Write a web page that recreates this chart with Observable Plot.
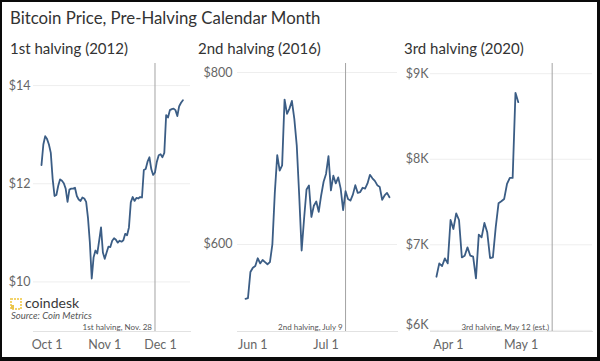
<!DOCTYPE html>
<html>
<head>
<meta charset="utf-8">
<script src="https://cdn.jsdelivr.net/npm/d3@7"></script>
<script src="https://cdn.jsdelivr.net/npm/@observablehq/plot@0.6"></script>
<style>
  html, body { margin: 0; padding: 0; width: 600px; height: 361px; overflow: hidden; background: #0a0a0a; }
  body { position: relative; font-family: Lato, "Open Sans", sans-serif; }
  #card { position: absolute; left: 2px; top: 2px; width: 595px; height: 355px; background: #fff; }
  .abs { position: absolute; white-space: nowrap; }
  #title { left: 10px; top: 7px; font-size: 16.8px; color: #333; line-height: 22px; }
  .ptitle { top: 37px; font-size: 15px; color: #333; line-height: 22px; }
  #logo { left: 10px; top: 296px; font-size: 14px; color: #3a3a3a; line-height: 13px; }
  #source { left: 11px; top: 311px; font-size: 9.5px; font-style: italic; color: #555; line-height: 9px; }
  svg.panel { position: absolute; top: 60px; overflow: visible; }
</style>
</head>
<body>
<div id="card"></div>
<div id="root"></div>
<script>
// ---- data ----
const chartTitle = "Bitcoin Price, Pre-Halving Calendar Month";
const panelTitles = ["1st halving (2012)", "2nd halving (2016)", "3rd halving (2020)"];
const halvingDates = ["2012-11-28", "2016-07-09", "2020-05-12"];
const halvingLabels = ["1st halving, Nov. 28", "2nd halving, July 9", "3rd halving, May 12 (est.)"];

// daily prices, first value on the start date
const start2012 = "2012-09-28";
const price2012 = [12.38, 12.80, 12.97, 12.91, 12.80, 12.63, 12.10, 11.75, 11.77, 11.96,
  12.09, 12.06, 12.01, 11.90, 11.63, 11.88, 11.90, 11.90, 11.92, 11.75,
  11.68, 11.65, 11.72, 11.70, 11.63, 11.30, 10.80, 10.07, 10.50, 10.64,
  10.58, 10.84, 11.11, 10.60, 10.47, 10.60, 10.72, 10.71, 10.84, 10.89,
  10.86, 10.80, 10.84, 10.82, 10.85, 10.98, 10.95, 11.11, 11.62, 11.73,
  11.65, 11.71, 11.70, 11.73, 11.72, 12.28, 12.30, 12.45, 12.54, 12.30,
  12.18, 12.23, 12.45, 12.58, 12.60, 12.54, 12.63, 13.40, 13.35, 13.50,
  13.52, 13.53, 13.50, 13.38, 13.58, 13.65, 13.70];

const start2016 = "2016-05-29";
const price2016 = [536.8, 537.6, 568, 573, 575, 584, 578, 582, 579.5, 577,
  579.5, 600, 660, 704, 686, 692, 768.6, 752, 758, 767,
  746, 715, 657, 593, 630, 664, 668.6, 632, 645, 650,
  638, 657, 673, 682, 702.7, 663, 680, 671, 678, 665,
  640, 662, 653, 651, 658, 669, 660, 661, 666, 665,
  671, 681, 677, 674, 669, 667, 652, 657, 660, 655];

const start2020 = "2020-04-01";
const price2020 = [6627, 6783, 6752, 6842, 6783, 7290, 7185, 7368, 7290, 6853,
  6873, 6970, 6873, 6861, 6608, 7119, 7087, 7255, 7146, 6846,
  6853, 7204, 7485, 7509, 7536, 7711, 7782, 7782, 8776, 8667];

const yTicks2012 = [10, 12, 14];
const yTicks2016 = [600, 800];
const yTicks2020 = [6000, 7000, 8000, 9000];
const xTicks2012 = ["2012-10-01", "2012-11-01", "2012-12-01"];
const xTicks2016 = ["2016-06-01", "2016-07-01"];
const xTicks2020 = ["2020-04-01", "2020-05-01"];

// ---- drawing ----
const LINE = "#3b5d85";
const GRID = "#eeeeee";
const TICKTXT = "#666";
const fmtDate = d3.utcFormat("%b %-d");

function series(start, values) {
  const s = new Date(start);
  return values.map((v, i) => ({date: d3.utcDay.offset(s, i), price: v}));
}

function panel(o) {
  const data = series(o.start, o.values);
  const halving = new Date(o.halving);
  const marks = [
    Plot.gridY(o.yTicks, {stroke: GRID, strokeOpacity: 1}),
    Plot.frame({anchor: "bottom", stroke: "#e2e2e2"}),
    Plot.ruleX([halving], {stroke: "#a3a3a3", strokeWidth: 1}),
    Plot.lineY(data, {x: "date", y: "price", stroke: LINE, strokeWidth: 1.8, curve: "linear"}),
    Plot.text([halving], {x: d => d, frameAnchor: "bottom", text: () => o.label, textAnchor: "end",
      lineAnchor: "bottom", dx: -3, dy: -2, fontSize: 8, fill: "#555"}),
  ];
  for (const t of o.yTickGroups) {
    marks.push(Plot.axisY(t.ticks, {tickSize: 0, tickPadding: o.yPad, tickFormat: o.yFmt, label: null,
      fontSize: 12.5, fill: TICKTXT, dy: t.dy || 0}));
  }
  for (const t of o.xTickGroups) {
    marks.push(Plot.axisX(t.ticks.map(d => new Date(d)), {tickSize: 0, tickPadding: 9, tickFormat: fmtDate,
      label: null, fontSize: 12.5, fill: TICKTXT, dx: t.dx || 0}));
  }
  const svg = Plot.plot({
    width: o.width, height: 300,
    marginTop: 3, marginBottom: 29, marginLeft: o.ml, marginRight: o.mr,
    x: {type: "utc", domain: o.xDomain.map(d => new Date(d)), axis: null, label: null},
    y: {domain: o.yDomain, axis: null, label: null},
    style: {fontFamily: "Lato, 'Open Sans', sans-serif", background: "transparent", overflow: "visible"},
    marks
  });
  svg.classList.add("panel");
  svg.style.left = o.left + "px";
  return svg;
}

const root = document.getElementById("root");

function addText(id, cls, text, left) {
  const d = document.createElement("div");
  if (id) d.id = id;
  d.className = "abs " + (cls || "");
  d.textContent = text;
  if (left != null) d.style.left = left + "px";
  root.appendChild(d);
  return d;
}

addText("title", "", chartTitle);
addText(null, "ptitle", panelTitles[0], 10);
addText(null, "ptitle", panelTitles[1], 198);
addText(null, "ptitle", panelTitles[2], 404);

root.appendChild(panel({
  start: start2012, values: price2012, halving: halvingDates[0], label: halvingLabels[0],
  left: 0, width: 195, ml: 33, mr: 5,
  xDomain: ["2012-09-23T17:00Z", "2012-12-17T02:00Z"], yDomain: [8.99, 14.45], yTicks: yTicks2012,
  yTickGroups: [{ticks: yTicks2012}], yPad: 3, yFmt: d => "$" + d,
  xTickGroups: [{ticks: xTicks2012}]
}));
root.appendChild(panel({
  start: start2016, values: price2016, halving: halvingDates[1], label: halvingLabels[1],
  left: 195, width: 205, ml: 42, mr: 3,
  xDomain: ["2016-05-25T17:00Z", "2016-07-30T07:00Z"], yDomain: [498.8, 810.5], yTicks: yTicks2016,
  yTickGroups: [{ticks: yTicks2016}], yPad: 5, yFmt: d => "$" + d,
  xTickGroups: [{ticks: xTicks2016}]
}));
root.appendChild(panel({
  start: start2020, values: price2020, halving: halvingDates[2], label: halvingLabels[2],
  left: 400, width: 196, ml: 30, mr: 4,
  xDomain: ["2020-03-29T21:30Z", "2020-05-26T07:00Z"], yDomain: [5987, 9119], yTicks: yTicks2020,
  yTickGroups: [{ticks: yTicks2020.slice(1)}, {ticks: yTicks2020.slice(0, 1), dy: -5}], yPad: 2,
  yFmt: d => "$" + d / 1000 + "K",
  xTickGroups: [{ticks: xTicks2020.slice(0, 1), dx: 12}, {ticks: xTicks2020.slice(1)}]
}));

// coindesk credit
const logo = document.createElement("div");
logo.id = "logo"; logo.className = "abs";
logo.innerHTML = '<svg width="12" height="12" style="vertical-align:-2px;margin-right:3px">' +
  '<rect x="1" y="1" width="10" height="10" fill="none" stroke="#f3d36b" stroke-width="2" stroke-dasharray="2 1"/>' +
  '<rect x="1" y="7" width="3" height="4" fill="#e9c44c"/></svg><span>coindesk</span>';
root.appendChild(logo);
addText("source", "", "Source: Coin Metrics");
</script>
</body>
</html>
